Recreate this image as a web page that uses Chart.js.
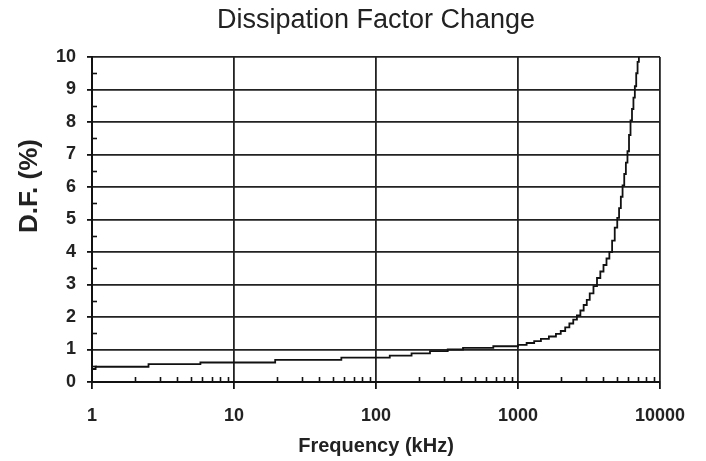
<!DOCTYPE html>
<html>
<head>
<meta charset="utf-8">
<script src="https://cdn.jsdelivr.net/npm/chart.js@4.4.0/dist/chart.umd.min.js"></script>
<style>
  html,body{margin:0;padding:0;background:#fff;}
  #wrap{width:706px;height:461px;}
</style>
</head>
<body>
<div id="wrap"><canvas id="df-chart" width="706" height="461"></canvas></div>
<script>
/* data (step corners) */
var freqKHz = [1, 1.06, 2.5, 5.8, 19.5, 57, 125, 178, 240, 320, 410, 670, 1000,
  1150, 1300, 1450, 1650, 1850, 2000, 2150, 2300, 2450, 2600, 2750, 2900, 3050,
  3200, 3400, 3600, 3800, 4000, 4200, 4400, 4600, 4800, 5000, 5150, 5300, 5450,
  5600, 5750, 5900, 6050, 6200, 6350, 6500, 6650, 6800, 6950, 7100, 7200];
var dfPercent = [0.37, 0.40, 0.47, 0.55, 0.60, 0.68, 0.75, 0.81, 0.88, 0.95, 1.0, 1.05, 1.1,
  1.14, 1.2, 1.26, 1.33, 1.4, 1.48, 1.57, 1.68, 1.8, 1.92, 2.05, 2.2, 2.37,
  2.53, 2.73, 2.95, 3.2, 3.4, 3.6, 3.8, 4.0, 4.35, 4.75, 5.05, 5.35, 5.7,
  6.05, 6.4, 6.75, 7.1, 7.6, 8.05, 8.4, 8.75, 9.1, 9.5, 9.85, 10.0];
var xTickValues = [1, 10, 100, 1000, 10000];
var yTickValues = [0, 1, 2, 3, 4, 5, 6, 7, 8, 9, 10];
var xMinorFactors = [2, 3, 4, 5, 6, 7, 8, 9];

var FONT = '"Liberation Sans", Arial, sans-serif';

/* titles + minor tick marks */
var extrasPlugin = {
  id: 'extras',
  afterDraw: function(chart){
    var ctx = chart.ctx, xs = chart.scales.x, ys = chart.scales.y;
    var area = chart.chartArea;
    ctx.save();
    ctx.strokeStyle = '#111';
    ctx.lineWidth = 1.6;
    // y minor ticks at half units, pointing inside
    yTickValues.slice(0, -1).forEach(function(v){
      var py = Math.round(ys.getPixelForValue(v + 0.5)) + 0.5;
      ctx.beginPath();
      ctx.moveTo(area.left, py);
      ctx.lineTo(area.left + 5, py);
      ctx.stroke();
    });
    // x minor ticks 2..9 per decade, pointing up
    xTickValues.slice(0, -1).forEach(function(d){
      xMinorFactors.forEach(function(f){
        var px = Math.round(xs.getPixelForValue(d * f)) + 0.5;
        ctx.beginPath();
        ctx.moveTo(px, area.bottom);
        ctx.lineTo(px, area.bottom - 5);
        ctx.stroke();
      });
    });

    ctx.fillStyle = '#222';
    ctx.textAlign = 'center';
    ctx.textBaseline = 'middle';
    ctx.font = '27px ' + FONT;
    ctx.fillText('Dissipation Factor Change', (area.left + area.right) / 2, 21);

    ctx.font = 'bold 20px ' + FONT;
    ctx.fillText('Frequency (kHz)', (area.left + area.right) / 2, 446);

    ctx.translate(30, 186);
    ctx.rotate(-Math.PI / 2);
    ctx.font = 'bold 26px ' + FONT;
    ctx.fillText('D.F. (%)', 0, 0);
    ctx.restore();
  }
};

new Chart(document.getElementById('df-chart'), {
  type: 'line',
  data: {
    datasets: [{
      label: 'D.F.',
      data: freqKHz.map(function(f, i){ return {x: f, y: dfPercent[i]}; }),
      borderColor: '#111',
      borderWidth: 1.8,
      pointRadius: 0,
      stepped: 'after',
      fill: false
    }]
  },
  options: {
    responsive: false,
    animation: false,
    layout: {padding: {left: 0, right: 46, top: 57, bottom: 0}},
    plugins: {legend: {display: false}, tooltip: {enabled: false}, title: {display: false}},
    scales: {
      x: {
        type: 'logarithmic',
        min: 1, max: 10000,
        afterBuildTicks: function(s){ s.ticks = xTickValues.map(function(v){ return {value: v}; }); },
        afterFit: function(s){ s.height = 79; },
        ticks: {
          autoSkip: false, maxRotation: 0, padding: 16,
          color: '#222',
          font: {family: FONT, size: 18, weight: 'bold'},
          callback: function(v){ return String(v); }
        },
        grid: {color: '#222', lineWidth: 1.8, tickLength: 7, tickColor: '#111'},
        border: {color: '#111', width: 2}
      },
      y: {
        min: 0, max: 10,
        afterBuildTicks: function(s){ s.ticks = yTickValues.map(function(v){ return {value: v}; }); },
        afterFit: function(s){ s.width = 92; },
        ticks: {
          padding: 11,
          color: '#222',
          font: {family: FONT, size: 18, weight: 'bold'},
          callback: function(v){ return String(v); }
        },
        grid: {color: '#222', lineWidth: 1.8, tickLength: 5, tickColor: '#111'},
        border: {color: '#111', width: 2}
      }
    }
  },
  plugins: [extrasPlugin]
});
</script>
</body>
</html>
